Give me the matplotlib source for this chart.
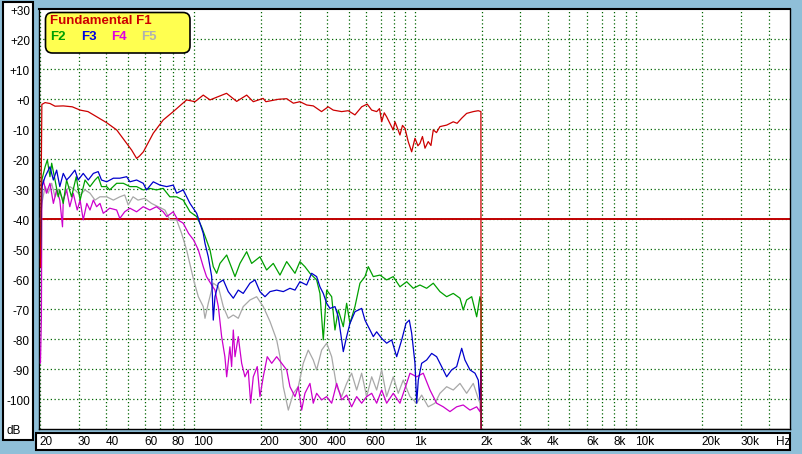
import matplotlib
matplotlib.use('Agg')
import matplotlib.pyplot as plt
import matplotlib.transforms as mtransforms
from matplotlib.patches import Rectangle, FancyBboxPatch
from matplotlib.ticker import NullLocator

plt.rcParams['font.family'] = ['Liberation Sans', 'DejaVu Sans']

# ---- data (Hz, dB) ----
F1_HZ = [20.1, 20.4, 21.1, 22.2, 23.4, 25.5, 28, 30.4, 33, 36.1, 40.1, 44.5, 49.4, 52, 54.8, 56.5, 58.8,
         65.2, 72.3, 80.3, 92.3, 100.7, 109.8, 117.8, 140, 155.6, 172.7, 185, 205, 211, 240,
         262, 281, 301, 323, 346, 377, 404, 426, 465, 498, 534, 573, 607, 636, 670, 690, 706, 725, 743,
         770, 796, 811, 830, 854, 877, 900, 931, 965, 999, 1030, 1052, 1080, 1109, 1147, 1180, 1209, 1250,
         1296, 1390, 1489, 1550, 1626, 1712, 1835, 1932, 1987, 1990]
F1_DB = [-56, -1.8, -1.2, -1.5, -2.4, -2.3, -2.6, -3.7, -4.2, -5.9, -7.9, -10.3, -14.8, -17, -19.8, -19, -17.6,
         -11.4, -7, -4.2, -0.3, -0.9, 1.3, -0.3, 1.9, -0.8, 1.3, -0.9, 0.2, -0.9, -0.1,
         0.1, -1.4, -0.9, -2, -2.3, -4.2, -2.6, -3.7, -4.2, -3.9, -5.3, -2.6, -1.7, -3.7, -4.2, -3.2, -7.6, -4.6, -5.9,
         -8.2, -10.3, -7.6, -9.5, -12, -8.8, -9.8, -14.2, -17.6, -13.1, -15.6, -14.8, -12.5, -16.4, -14.2, -15.5, -10.3, -11.2,
         -9.2, -8.7, -7.6, -8.1, -6.4, -4.8, -4.2, -3.9, -4.2, -110]

F2_HZ = [20.1, 20.4, 21.1, 21.6, 22.2, 22.6, 23.4, 24.2, 24.6, 25.5, 26.4, 27.8, 29.2, 30.4, 32,
         33.7, 35.5, 36.7, 38, 40.1, 41.4, 44.5, 47.7, 51.1, 54.8, 58.7, 62.9, 67.4, 72.3, 77.5,
         83.2, 89.1, 95.6, 102.5, 107.9, 113.5, 117.8, 121.9, 126.3, 130.7, 140.2, 152.9, 161,
         172.7, 181.9, 198.3, 212.6, 227.9, 244.4, 262.1, 285.8, 300.9, 317.1, 334.1, 358.2,
         370.8, 383.9, 397.7, 419, 433.7, 448.9, 473, 489.8, 507, 534.2, 562.8, 593, 613.9,
         646.7, 693.4, 743.5, 796.6, 854, 915.9, 981.3, 1052, 1128, 1209, 1296, 1390, 1489,
         1597, 1652, 1712, 1805, 1901, 1967, 1990, 1995]
F2_DB = [-50, -27, -22.6, -20.3, -25.9, -21.4, -27, -32.6, -30.3, -34.8, -27, -32.6, -25.9, -33.7, -27,
         -29.2, -27, -25.9, -29.2, -29.2, -30.3, -28.1, -28.1, -29.2, -29.2, -30.3, -29.8, -30.3, -29.8, -32.6,
         -32.6, -33.7, -37.6, -39.2, -42.6, -47, -50.3, -55.9, -58.1, -54.8, -52, -59.2, -54.8,
         -50.9, -54.8, -52.6, -57, -54.8, -58.7, -54.2, -58.1, -54.2, -55.9, -58.1, -60.3,
         -64.8, -80.3, -63.7, -65.9, -77, -70.3, -75.9, -68.1, -74.8, -69.2, -61.4, -59.2, -55.9,
         -59.2, -58.7, -60.3, -59.2, -62.6, -60.9, -63.1, -62, -63.1, -61.4, -64.2, -65.9, -64.8,
         -66.4, -70.3, -67, -65.9, -72.6, -65.9, -67.6, -110]

F3_HZ = [20.1, 20.4, 21.1, 22.2, 23, 23.8, 24.6, 25.5, 26.4, 27.3, 28.8, 29.8, 31.4, 33.1, 34.9,
         36.7, 38, 40.1, 43, 46, 49.4, 51.1, 54.8, 58.7, 60.8, 65.2, 69.9, 75, 80.3, 83.2, 89.1,
         95.6, 102.5, 106.1, 109.8, 111.8, 115.7, 119.9, 121.9, 124.1, 128.5, 135.3, 142.5, 150.2,
         158.2, 166.6, 178.7, 188.3, 198.3, 209, 220.3, 236.1, 253, 271.2, 285.8, 300.9, 322.8,
         340, 358.2, 370.8, 383.9, 397.7, 411.6, 433.7, 448.9, 465, 473, 489.8, 507, 534.2, 572.8,
         593, 624.9, 646.7, 669.9, 705.8, 743.5, 783.5, 825.4, 869.8, 909.6, 941.5, 965.2, 999,
         1017, 1034, 1071, 1128, 1189, 1252, 1319, 1390, 1464, 1543, 1626, 1682, 1773, 1868,
         1933, 1967, 1990, 1993]
F3_DB = [-53, -29.2, -25.9, -22.6, -27, -23.7, -29.2, -24.8, -27, -25.9, -23.7, -27, -24.8, -27, -24.8,
         -24.2, -27, -27.6, -26.4, -26.4, -25.9, -27.6, -27, -28.1, -30.3, -27.6, -28.7, -29.2, -28.7, -31.4, -30.3,
         -34.8, -38.1, -41.4, -44.8, -48.1, -52.6, -59.2, -73.7, -65.9, -61.4, -60.3, -64.2, -66.4,
         -63.7, -64.8, -61.4, -60.3, -64.2, -65.9, -64.2, -63.7, -64.2, -63.1, -63.7, -60.9, -62,
         -58.1, -59.2, -62.6, -64.8, -68.1, -69.8, -69.2, -72.6, -80.3, -84.2, -79.2, -74.8, -70.9, -69.8,
         -73.7, -77, -79.2, -77.6, -79.8, -81.4, -80.3, -85.9, -80.3, -74.8, -73.7, -78.1, -88.1,
         -101.4, -93.7, -88.1, -87, -84.8, -85.9, -89.2, -92.6, -90.3, -89.2, -83.1, -87, -90.3, -91.4,
         -93.7, -100.3, -90.3, -110]

F4_HZ = [20.1, 20.3, 20.4, 20.7, 21.4, 22.2, 23, 23.8, 24.6, 25.3, 25.5, 26.4, 27.3, 28.3, 29.5,
         30.4, 31.4, 32.6, 33.7, 34.9, 36.1, 37.4, 38.7, 41.4, 44.5, 46, 48.4, 51.1, 54.8, 58.7,
         62.9, 67.4, 72.3, 75, 80.3, 84.2, 89.1, 94.2, 99.3, 104.3, 109.8, 113.6, 119.9, 124.1,
         128.5, 133, 137.6, 140.2, 145, 147.6, 150.2, 152.9, 158.2, 163.9, 169.6, 175.5, 180,
         185, 192.8, 198.3, 205.3, 214, 224.2, 236.1, 248.8, 262.1, 271.2, 285.8, 295.8, 306.4,
         317.1, 334.1, 345.8, 358.2, 377.4, 397.7, 419, 441.5, 465, 489.8, 516, 543.8, 572.8,
         603.5, 636, 669.9, 705.8, 743.5, 796.6, 854, 915.9, 948, 1017, 1089, 1168, 1252, 1341,
         1439, 1543, 1652, 1773, 1901, 1967, 1990]
F4_DB = [-88, -73, -30.3, -27, -31.4, -28.1, -34.8, -30.3, -33.7, -42.6, -33.7, -30.3, -35.9, -31.4, -37,
         -33.7, -40.3, -34.8, -37, -33.7, -35.9, -34.8, -38.1, -36.4, -37, -39.8, -37.6, -36.4, -37.6, -35.9,
         -37, -35.9, -37.6, -39.2, -37.6, -40.3, -41.4, -44.8, -47, -50.3, -55.9, -59.2, -62, -63.7,
         -69.2, -79.2, -85.9, -92.6, -82.6, -89.2, -77, -85.9, -79.2, -88.1, -92.6, -90.3, -101.4,
         -92.6, -89.2, -99.2, -92.6, -85.9, -88.1, -85.9, -88.1, -90.3, -95.9, -99.2, -95.9, -103.7,
         -98.1, -94.8, -101.4, -98.1, -100.3, -99.2, -101.4, -94.8, -100.3, -98.7, -102.6, -99.2, -101.4,
         -99.2, -98.1, -101.4, -97, -101.4, -98.1, -101.4, -94.8, -91.4, -92.6, -91.4, -97, -101.4, -102.6,
         -104.2, -102.6, -102, -103.7, -102.6, -104.2, -101.4]

F5_HZ = [20.1, 20.4, 21.1, 21.8, 22.6, 23.4, 24.2, 25.5, 26.4, 27.3, 28.8, 30.4, 32, 33.7, 35.5,
         37.4, 40.1, 43, 46, 48.4, 50.2, 52.8, 55.6, 59.6, 64, 68.6, 73.6, 77.5, 83.2, 87.6, 92.3,
         99.3, 104.3, 109.8, 111.8, 115.7, 121.9, 128.5, 135.3, 142.5, 150.2, 158.2, 166.6, 178.7,
         191.6, 205.3, 220.3, 236.1, 244.4, 253, 266.6, 281, 295.8, 311.6, 328.2, 345.8, 358.2,
         377.4, 397.7, 419, 441.5, 465, 489.8, 516, 543.8, 572.8, 603.5, 636, 669.9, 705.8, 743.5,
         796.6, 839, 884, 948, 1017, 1071, 1147, 1230, 1296, 1390, 1489, 1597, 1712, 1835, 1920,
         1967, 1995, 49900]
F5_DB = [-40, -34.8, -29.2, -31.4, -28.1, -32.6, -30.3, -33.7, -30.3, -29.2, -30.3, -32, -30.3, -31.4, -33.7,
         -32.6, -32.6, -33.7, -32.6, -32, -35.3, -32.6, -33.7, -33.1, -34.8, -35.9, -37, -40.3, -40.3, -44.8, -50.3,
         -60.3, -65.9, -69.2, -73.1, -68.1, -61.4, -62.6, -69.2, -73.1, -72, -73.1, -69.2, -67,
         -65.9, -69.2, -74.2, -80.3, -85.9, -95.9, -103.7, -98.1, -95.9, -88.1, -83.7, -87, -90.3,
         -83.7, -81.4, -85.9, -95.9, -99.2, -94.8, -91.4, -97, -91.4, -99.2, -92.6, -97, -90.3, -99.2,
         -92.6, -98.1, -93.7, -99.2, -101.4, -98.7, -102.6, -101.4, -98.1, -95.9, -97, -94.8, -98.1, -94.8, -99.2,
         -101.4, -110, -110]

X_TICKS = [20, 30, 40, 60, 80, 100, 200, 300, 400, 600, 1000, 2000, 3000, 4000,
           6000, 8000, 10000, 20000, 30000]
X_LABELS = ['20', '30', '40', '60', '80', '100', '200', '300', '400', '600', '1k', '2k', '3k', '4k',
            '6k', '8k', '10k', '20k', '30k']
Y_TICKS = [30, 20, 10, 0, -10, -20, -30, -40, -50, -60, -70, -80, -90, -100]
Y_LABELS = ['+30', '+20', '+10', '+0', '-10', '-20', '-30', '-40', '-50', '-60', '-70', '-80',
            '-90', '-100']

W, H = 803, 454
BG = '#8FBFD8'
GRID = '#006400'

fig = plt.figure(figsize=(W / 100, H / 100), dpi=100, facecolor=BG)

# y label panel and x label panel
fig.add_artist(Rectangle((3 / W, 1 - 440 / H), 30 / W, 438 / H, transform=fig.transFigure,
                         facecolor='white', edgecolor='black', lw=1.5))
fig.add_artist(Rectangle((36 / W, 1 - 450 / H), 754 / W, 17 / H, transform=fig.transFigure,
                         facecolor='white', edgecolor='black', lw=1.5))

ax = fig.add_axes([39 / W, 1 - 429 / H, 751 / W, 420 / H])
ax.set_facecolor('white')
ax.set_xscale('log')
ax.set_xlim(19.8, 49900)
ax.set_ylim(-110, 30)
ax.xaxis.set_major_locator(NullLocator())
ax.xaxis.set_minor_locator(NullLocator())
ax.yaxis.set_major_locator(NullLocator())

# grid: every 1..9 x decade, every 10 dB
for dec in (10, 100, 1000, 10000):
    for m in range(1, 10):
        f = m * dec
        if 20 <= f <= 40000:
            ax.axvline(f, color=GRID, lw=0.9, ls=(0, (1, 2)), zorder=1)
for db in range(-100, 30, 10):
    ax.axhline(db, color=GRID, lw=0.9, ls=(0, (1, 2)), zorder=1)

ax.axhline(-40, color='#C00000', lw=1.4, zorder=2)

lw = 0.9
ax.plot(F5_HZ, F5_DB, color='#A8A8A8', lw=lw, zorder=3)
ax.plot(F4_HZ, F4_DB, color='#CC00CC', lw=lw, zorder=4)
ax.plot(F2_HZ, F2_DB, color='#00A000', lw=lw, zorder=5)
ax.plot(F3_HZ, F3_DB, color='#0000CC', lw=lw, zorder=6)
ax.plot(F1_HZ, F1_DB, color='#CC0000', lw=lw, zorder=7)

for side in ('left', 'right'):
    ax.spines[side].set_linestyle((0, (1, 1)))
    ax.spines[side].set_color('black')
    ax.spines[side].set_linewidth(1)
ax.spines['top'].set_linewidth(1.5)
ax.spines['bottom'].set_linewidth(1)

# axis labels
ty = mtransforms.blended_transform_factory(fig.transFigure, ax.transData)
for v, lab in zip(Y_TICKS, Y_LABELS):
    fig.text(30 / W, v - 0.9, lab, transform=ty, ha='right', va='center', fontsize=8.5)
fig.text(7 / W, 1 - 431 / H, 'dB', ha='left', va='center', fontsize=8.5)

tx = mtransforms.blended_transform_factory(ax.transData, fig.transFigure)
for f, lab in zip(X_TICKS, X_LABELS):
    fig.text(f * 0.99, 1 - 442 / H, lab, transform=tx, ha='left', va='center', fontsize=8.5)
fig.text(776 / W, 1 - 442 / H, 'Hz', ha='left', va='center', fontsize=8.5)

# legend box
fig.add_artist(FancyBboxPatch((45.5 / 100, (H - 53) / 100), 144.5 / 100, 40.5 / 100,
                              boxstyle='round,pad=0,rounding_size=0.07',
                              transform=fig.dpi_scale_trans, facecolor='#FFFF50',
                              edgecolor='black', lw=1.2, zorder=10))
fig.text(50.5 / W, 1 - 21.5 / H, 'Fundamental F1', color='#CC0000', fontsize=9.5,
         fontweight='bold', ha='left', va='center', zorder=11)
for x0, lab, c in [(50.5, 'F2', '#00A000'), (81, 'F3', '#0000E0'),
                   (111, 'F4', '#E000E0'), (140.7, 'F5', '#B0B0B0')]:
    fig.text(x0 / W, 1 - 36.7 / H, lab, color=c, fontsize=9.5, fontweight='bold',
             ha='left', va='center', zorder=11)

fig.savefig('out.png', dpi=100, facecolor=fig.get_facecolor())
